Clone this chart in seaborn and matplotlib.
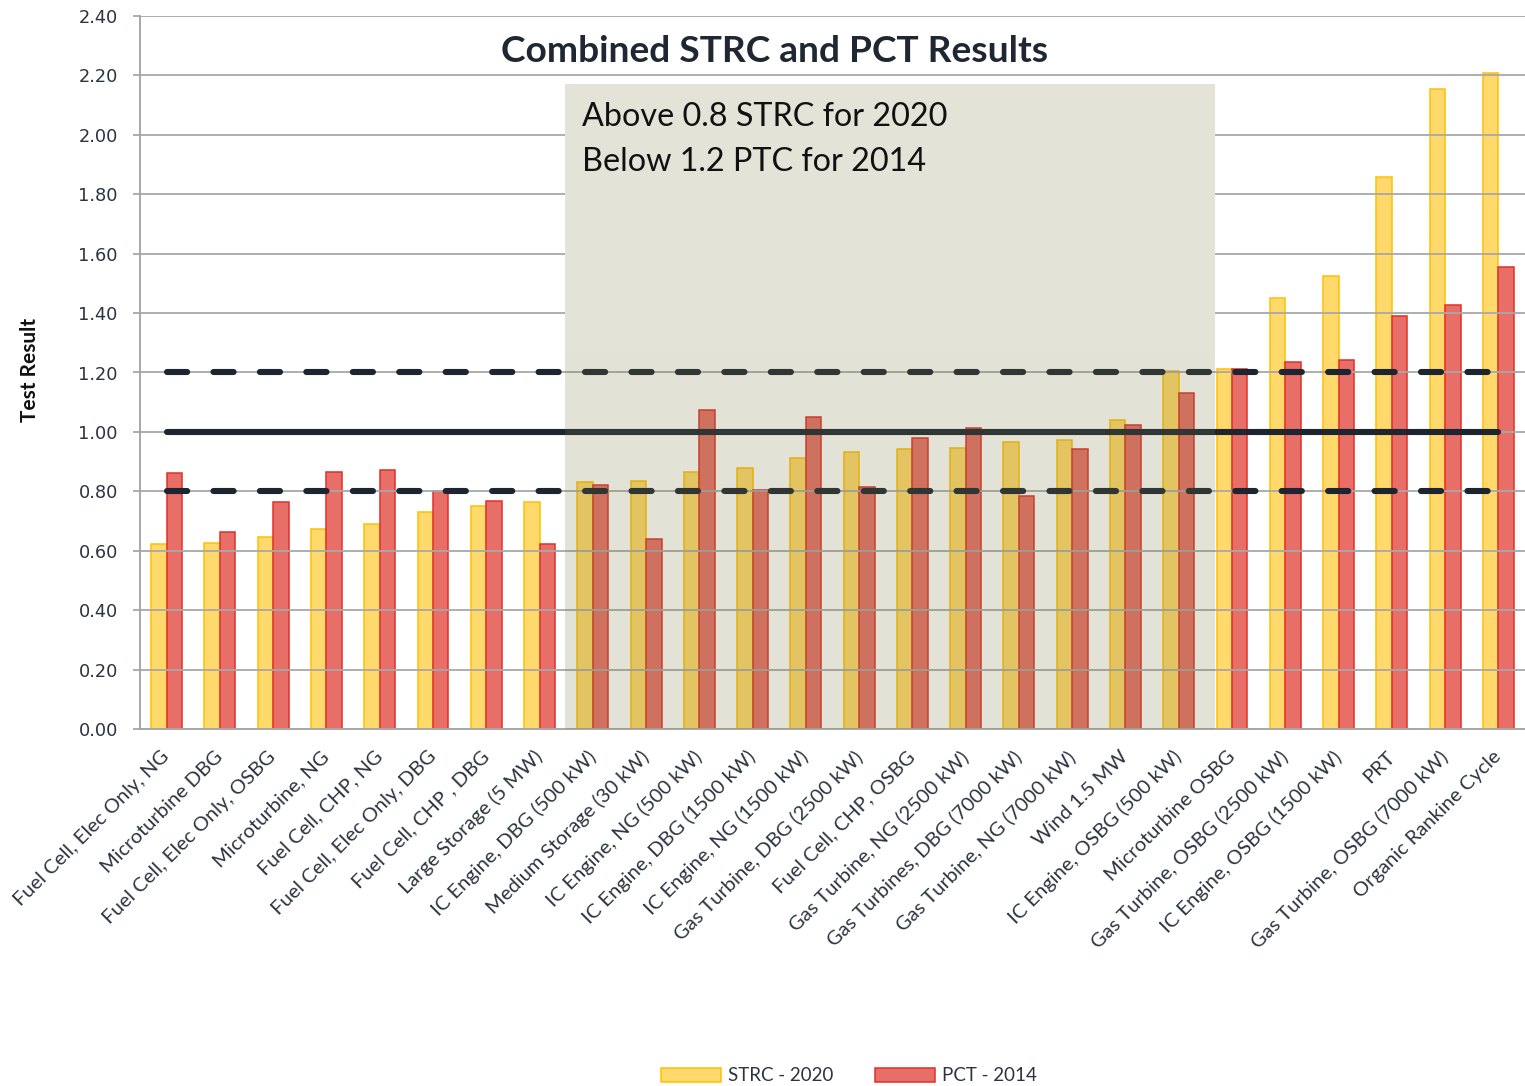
import matplotlib
matplotlib.use("Agg")
import matplotlib.pyplot as plt
import seaborn as sns
import pandas as pd
from matplotlib.patches import Rectangle, Patch

# ---------------- data ----------------
categories = [
    "Fuel Cell, Elec Only, NG", "Microturbine DBG", "Fuel Cell, Elec Only, OSBG",
    "Microturbine, NG", "Fuel Cell, CHP, NG", "Fuel Cell, Elec Only, DBG",
    "Fuel Cell, CHP , DBG", "Large Storage (5 MW)", "IC Engine, DBG (500 kW)",
    "Medium Storage (30 kW)", "IC Engine, NG (500 kW)", "IC Engine, DBG (1500 kW)",
    "IC Engine, NG (1500 kW)", "Gas Turbine, DBG (2500 kW)", "Fuel Cell, CHP, OSBG",
    "Gas Turbine, NG (2500 kW)", "Gas Turbines, DBG (7000 kW)", "Gas Turbine, NG (7000 kW)",
    "Wind 1.5 MW", "IC Engine, OSBG (500 kW)", "Microturbine OSBG",
    "Gas Turbine, OSBG (2500 kW)", "IC Engine, OSBG (1500 kW)", "PRT",
    "Gas Turbine, OSBG (7000 kW)", "Organic Rankine Cycle",
]
strc_2020 = [0.623, 0.626, 0.646, 0.673, 0.690, 0.730, 0.750, 0.764, 0.832, 0.835,
             0.865, 0.879, 0.912, 0.933, 0.943, 0.946, 0.966, 0.973, 1.040, 1.205,
             1.212, 1.451, 1.525, 1.859, 2.155, 2.209]
pct_2014 = [0.862, 0.663, 0.764, 0.865, 0.872, 0.800, 0.768, 0.623, 0.820, 0.640,
            1.074, 0.805, 1.050, 0.815, 0.980, 1.013, 0.785, 0.943, 1.024, 1.130,
            1.212, 1.236, 1.242, 1.390, 1.428, 1.556]
series_names = ["STRC - 2020", "PCT - 2014"]
y_ticks = [0.0, 0.2, 0.4, 0.6, 0.8, 1.0, 1.2, 1.4, 1.6, 1.8, 2.0, 2.2, 2.4]
lower_limit = 0.8
upper_limit = 1.2
unity_level = 1.0
highlight_first = "IC Engine, DBG (500 kW)"
highlight_last = "IC Engine, OSBG (500 kW)"
highlight_top = 2.172
title_text = "Combined STRC and PCT Results"
note_lines = ["Above 0.8 STRC for 2020", "Below 1.2 PTC for 2014"]
y_label = "Test Result"

# ---------------- style ----------------
face_colors = ["#FFD96C", "#E76F67"]
edge_colors = ["#FFC000", "#E0302A"]
line_color = "#1C2530"
text_color = "#2B3440"

sns.set_theme(style="white")
plt.rcParams["font.family"] = ["Lato", "DejaVu Sans"]

W, H = 1525, 1086
fig = plt.figure(figsize=(W / 100, H / 100), dpi=100)
ax = fig.add_axes([140 / W, 1 - 729 / H, 1385 / W, 713 / H])

df = pd.DataFrame({
    "Technology": categories * 2,
    "Series": [series_names[0]] * len(categories) + [series_names[1]] * len(categories),
    "Value": strc_2020 + pct_2014,
})
sns.barplot(data=df, x="Technology", y="Value", hue="Series", hue_order=series_names,
            order=categories, palette=face_colors, width=0.58, saturation=1,
            errorbar=None, legend=False, ax=ax, zorder=1)
for cont, ec in zip(ax.containers, edge_colors):
    for p in cont:
        p.set_edgecolor(ec)
        p.set_linewidth(1.1)

n = len(categories)
ax.set_xlim(-0.5, n - 0.5)
ax.set_ylim(0, 2.4)
ax.set_yticks(y_ticks)
ax.set_yticklabels([f"{v:.2f}" for v in y_ticks], fontfamily="DejaVu Sans",
                   fontsize=12.8, color=text_color)
ax.set_xticks(range(n))
ax.set_xticklabels(categories, rotation=45, ha="right", va="center",
                   rotation_mode="anchor", fontsize=14.5, color=text_color)
ax.tick_params(axis="x", which="major", length=0, pad=18)
ax.set_xticks([i - 0.5 for i in range(n + 1)], minor=True)
ax.tick_params(axis="x", which="minor", length=5, width=1.2, color="#A0A0A0", direction="out")
ax.tick_params(axis="y", length=5, width=1.2, color="#A0A0A0", direction="out", pad=11, left=True)
ax.set_xlabel("")
ax.set_ylabel(y_label, fontsize=15, fontweight="bold", color="#111111")
ax.yaxis.set_label_coords(-0.072, 0.503)

ax.set_axisbelow(False)
ax.yaxis.grid(True, color="#A8A8A8", linewidth=1.3)
ax.xaxis.grid(False)
for s in ["top", "right"]:
    ax.spines[s].set_visible(False)
for s in ["left", "bottom"]:
    ax.spines[s].set_color("#A0A0A0")
    ax.spines[s].set_linewidth(1.3)

# reference lines
ax.plot([0, n - 1], [unity_level, unity_level], color=line_color, lw=4.4,
        solid_capstyle="round", zorder=3)
for lvl in (lower_limit, upper_limit):
    ax.plot([0, n - 1], [lvl, lvl], color=line_color, lw=4.4,
            linestyle=(0, (3.3, 4.3)), dash_capstyle="round", zorder=3)

# highlighted region
x0 = categories.index(highlight_first) - 0.52
x1 = categories.index(highlight_last) + 0.68
split = 1.27
ax.add_patch(Rectangle((x0, 0), x1 - x0, split, facecolor=(121 / 255, 121 / 255, 69 / 255),
                       alpha=0.21, lw=0, zorder=4))
ax.add_patch(Rectangle((x0, split), x1 - x0, highlight_top - split, facecolor="#E3E3D8",
                       lw=0, zorder=2.8))

ax.text(x0 + 0.32, 2.06, note_lines[0], fontsize=23.3, color="#111111", va="center",
        ha="left", zorder=5)
ax.text(x0 + 0.32, 1.91, note_lines[1], fontsize=23.3, color="#111111", va="center",
        ha="left", zorder=5)

fig.text(775 / W, 1 - 51 / H, title_text, fontsize=26.7, fontweight="bold",
         color="#1F2733", ha="center", va="center")

handles = [Patch(facecolor=fc, edgecolor=ec, linewidth=1.1) for fc, ec in zip(face_colors, edge_colors)]
fig.legend(handles, series_names, loc="lower center", bbox_to_anchor=(849 / W, -0.014),
           ncol=2, frameon=False, fontsize=13.5, handlelength=3.2, handleheight=0.75,
           columnspacing=2.2, handletextpad=0.4, labelcolor=text_color)

fig.savefig("out.png", dpi=100)
